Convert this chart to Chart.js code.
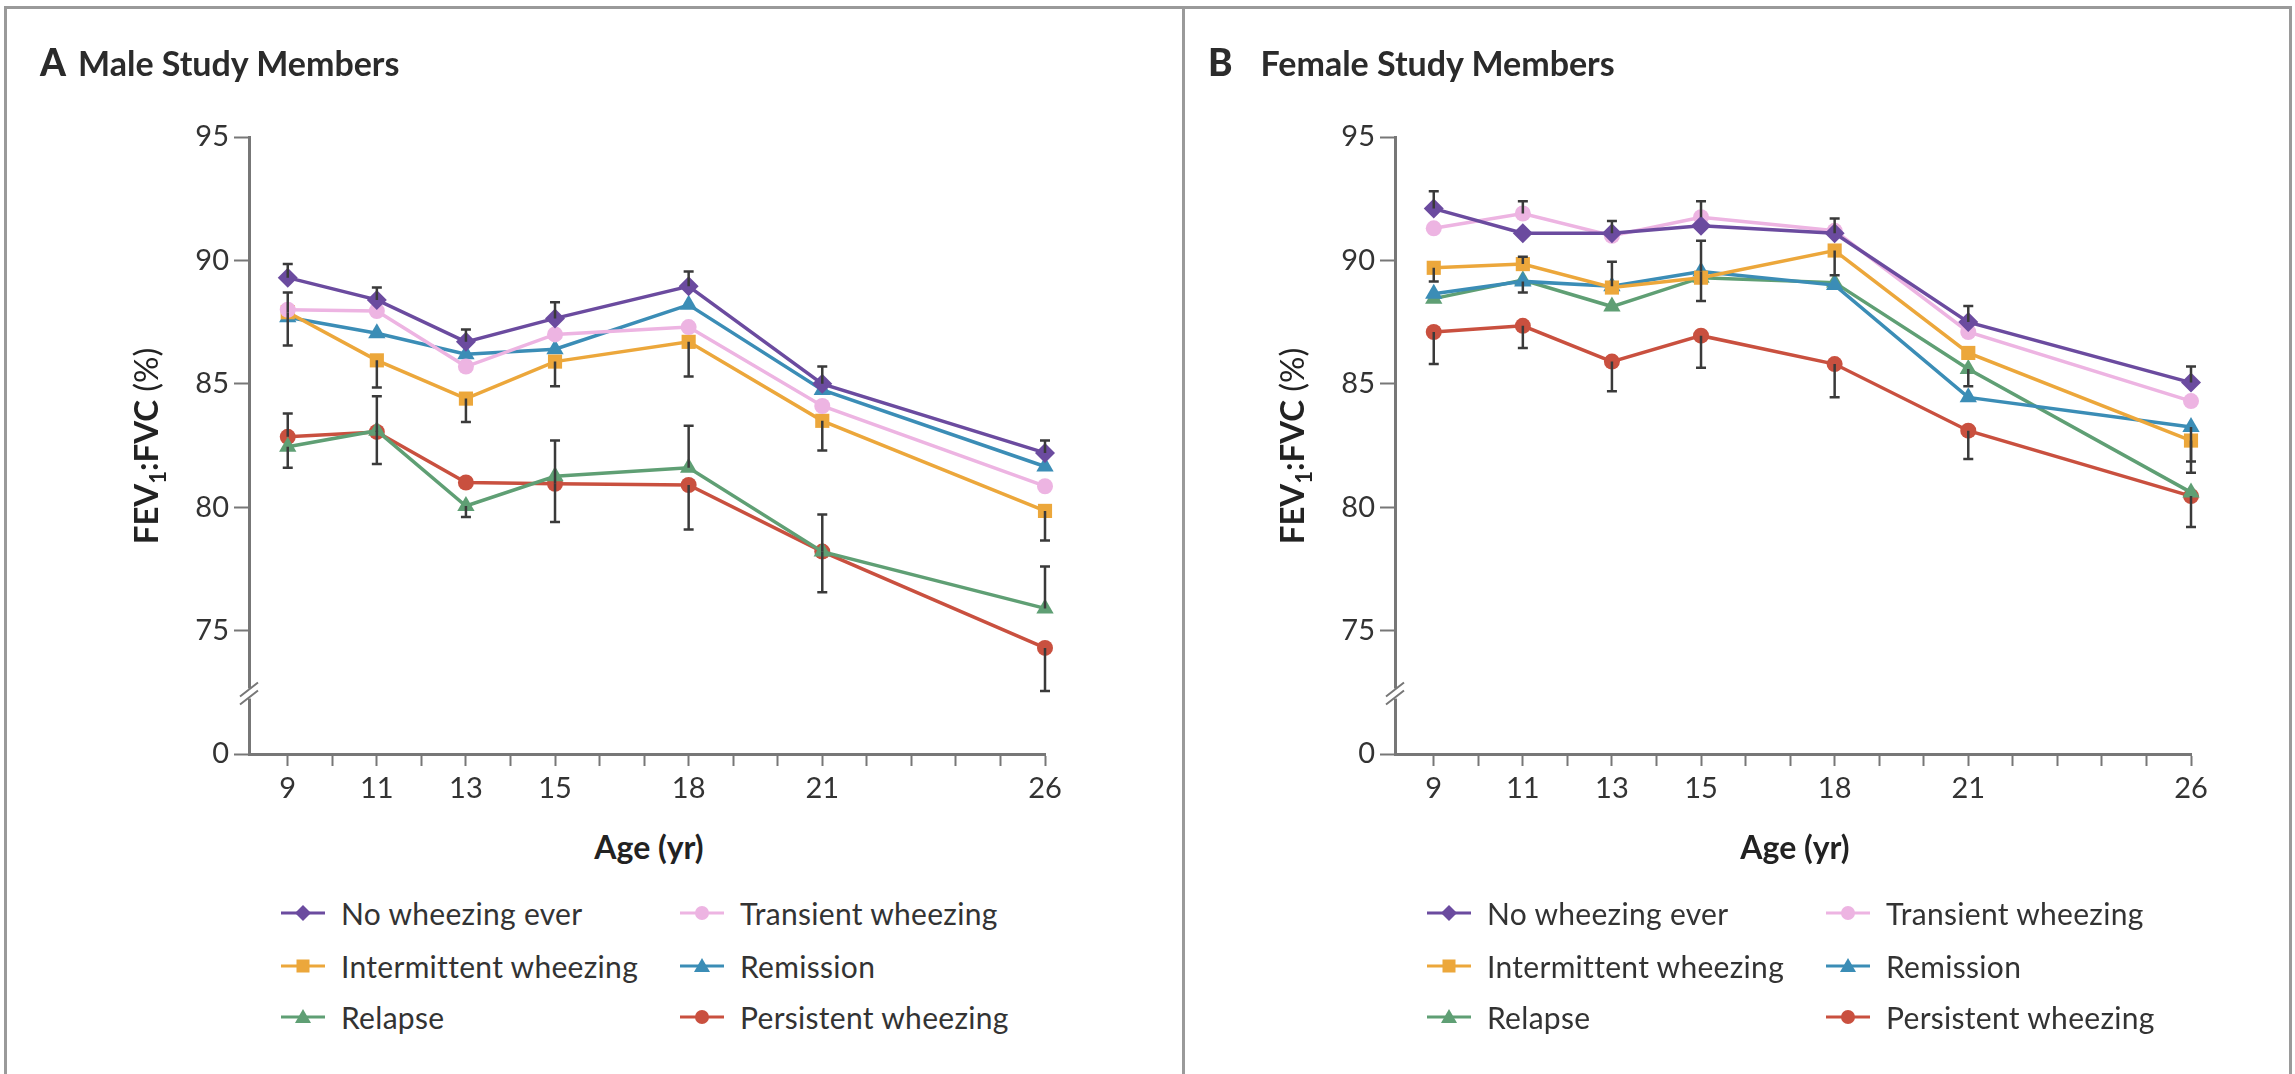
<!DOCTYPE html>
<html>
<head>
<meta charset="utf-8">
<script src="https://cdn.jsdelivr.net/npm/chart.js@4.4.0/dist/chart.umd.min.js"></script>
<style>
  html, body { margin: 0; padding: 0; background: #fff; }
  body { width: 2295px; height: 1074px; position: relative; overflow: hidden; font-family: Lato, 'Open Sans', sans-serif; color: #333; }
  .frame { position: absolute; top: 6px; left: 4px; width: 2288px; height: 1100px; border: 3px solid #9a9a9a; box-sizing: border-box; }
  .sep { position: absolute; top: 6px; left: 1182px; width: 3px; height: 1080px; background: #9a9a9a; }
  .panel { position: absolute; top: 0; width: 1150px; height: 1074px; }
  .panel canvas { position: absolute; left: 0; top: 0; }
  .ptitle { position: absolute; top: 45px; font-weight: 700; font-size: 34px; line-height: 34px; color: #2b2b2b; white-space: nowrap; }
  .ptitle .lt { font-size: 37px; font-weight: 900; }
  .ytitle { position: absolute; left: -5px; top: 428px; width: 300px; text-align: center; transform: rotate(-90deg); font-size: 33px; line-height: 36px; font-weight: 700; color: #222; white-space: nowrap; }
  .ytitle .pct { font-weight: 400; }
  .ytitle sub { font-size: 22px; line-height: 0; }
  .xtitle { position: absolute; left: 549px; top: 827px; width: 200px; text-align: center; font-size: 32px; font-weight: 700; color: #222; }
  .leg { position: absolute; height: 40px; display: flex; align-items: center; font-size: 30px; letter-spacing: 0.3px; color: #333; white-space: nowrap; }
  .leg svg { margin-right: 16px; }
</style>
</head>
<body>
<div class="frame"></div>
<div class="sep"></div>

<div class="panel" id="panelA" style="left:0">
  <canvas id="chartA" width="1150" height="820"></canvas>
  <div class="ptitle" style="left:40px"><span class="lt">A</span><span style="margin-left:12px">Male Study Members</span></div>
  <div class="ytitle">FEV<sub>1</sub>:FVC <span class="pct">(%)</span></div>
  <div class="xtitle">Age (yr)</div>
</div>

<div class="panel" id="panelB" style="left:1146px">
  <canvas id="chartB" width="1150" height="820"></canvas>
  <div class="ptitle" style="left:62px"><span class="lt">B</span><span style="margin-left:28px">Female Study Members</span></div>
  <div class="ytitle">FEV<sub>1</sub>:FVC <span class="pct">(%)</span></div>
  <div class="xtitle">Age (yr)</div>
</div>

<script>
// ages at which lung function was measured
const ages = [9, 11, 13, 15, 18, 21, 26];
const yearTicks = [9, 10, 11, 12, 13, 14, 15, 16, 17, 18, 19, 20, 21, 22, 23, 24, 25, 26];
// 70 sits where the broken axis is labelled 0
const yTicks = [70, 75, 80, 85, 90, 95];
const yTickLabels = ['0', '75', '80', '85', '90', '95'];

const seriesNames = ['No wheezing ever', 'Transient wheezing', 'Intermittent wheezing', 'Remission', 'Relapse', 'Persistent wheezing'];

// Male study members, FEV1:FVC (%)
const maleNoWheeze     = [89.3, 88.4, 86.7, 87.65, 88.95, 85.0, 82.2];
const maleTransient    = [88.0, 87.95, 85.7, 87.0, 87.3, 84.1, 80.85];
const maleIntermittent = [87.9, 85.95, 84.4, 85.9, 86.7, 83.5, 79.85];
const maleRemission    = [87.7, 87.05, 86.2, 86.4, 88.2, 84.75, 81.65];
const maleRelapse      = [82.45, 83.1, 80.05, 81.25, 81.6, 78.2, 75.9];
const malePersistent   = [82.85, 83.05, 81.0, 80.95, 80.9, 78.2, 74.3];

// Male error bars (upper / lower lengths, 0 = not drawn)
const maleNoWheezeUp      = [0.55, 0.5, 0.5, 0.65, 0.6, 0.7, 0.5];
const maleIntermittentUp  = [0.8, 0, 0, 0, 0, 0, 0];
const maleIntermittentDn  = [1.35, 1.1, 0.95, 1.0, 1.4, 1.2, 1.2];
const maleRelapseUp       = [0, 0, 0, 0, 1.7, 0, 1.7];
const maleRelapseDn       = [0.85, 1.35, 0.45, 0, 0, 0, 0];
const malePersistentUp    = [0.95, 1.45, 0, 1.75, 0, 1.5, 0];
const malePersistentDn    = [0, 0, 0, 1.55, 1.8, 1.65, 1.75];

// Female study members, FEV1:FVC (%)
const femaleNoWheeze     = [92.1, 91.1, 91.1, 91.4, 91.1, 87.5, 85.05];
const femaleTransient    = [91.3, 91.9, 91.0, 91.75, 91.2, 87.1, 84.3];
const femaleIntermittent = [89.7, 89.85, 88.9, 89.3, 90.4, 86.25, 82.7];
const femaleRemission    = [88.65, 89.15, 88.95, 89.55, 89.0, 84.45, 83.25];
const femaleRelapse      = [88.45, 89.2, 88.13, 89.3, 89.1, 85.6, 80.6];
const femalePersistent   = [87.1, 87.35, 85.9, 86.95, 85.8, 83.1, 80.45];

// Female error bars
const femaleNoWheezeUp     = [0.7, 0, 0.5, 0, 0.6, 0.65, 0.65];
const femaleTransientUp    = [0, 0.5, 0, 0.65, 0, 0, 0];
const femaleIntermittentUp = [0, 0.3, 0, 0, 0, 0, 0];
const femaleIntermittentDn = [0.55, 0, 0, 0, 1.0, 0, 0.85];
const femaleRemissionUp    = [0, 0, 1.0, 1.25, 0, 0, 0];
const femaleRemissionDn    = [0, 0.45, 0, 1.2, 0, 0, 1.85];
const femaleRelapseDn      = [0, 0, 0, 0, 0, 0.7, 0];
const femalePersistentDn   = [1.3, 0.9, 1.2, 1.3, 1.35, 1.15, 1.25];

const none = [0, 0, 0, 0, 0, 0, 0];

const colors = ['#6b4b9f', '#edb4e2', '#eca73b', '#3b8db6', '#5f9f74', '#c9503f'];
const styles = ['rectRot', 'circle', 'rect', 'triangle', 'triangle', 'circle'];
const radii = [10, 8, 10, 10, 10, 8];

function makeSets(values, ups, downs) {
  return values.map((vals, k) => ({
    label: seriesNames[k],
    data: ages.map((a, i) => ({ x: a, y: vals[i] })),
    borderColor: colors[k],
    backgroundColor: colors[k],
    pointBackgroundColor: colors[k],
    pointBorderColor: colors[k],
    pointStyle: styles[k],
    pointRadius: radii[k],
    pointBorderWidth: 0,
    borderWidth: 3.5,
    tension: 0,
    clip: false,
    errUp: ups[k],
    errDown: downs[k]
  }));
}

// error bars drawn through the chart scales
const errorBars = {
  id: 'errorBars',
  afterDatasetsDraw(chart) {
    const { ctx, scales: { x, y } } = chart;
    ctx.save();
    ctx.strokeStyle = '#3a3a3a';
    ctx.lineWidth = 2.5;
    chart.data.datasets.forEach(ds => {
      ds.data.forEach((pt, i) => {
        const px = x.getPixelForValue(pt.x);
        [[ds.errUp[i], 1], [ds.errDown[i], -1]].forEach(([e, s]) => {
          if (!e) return;
          const y0 = y.getPixelForValue(pt.y);
          const y1 = y.getPixelForValue(pt.y + s * e);
          ctx.beginPath();
          ctx.moveTo(px, y0); ctx.lineTo(px, y1);
          ctx.moveTo(px - 5, y1); ctx.lineTo(px + 5, y1);
          ctx.stroke();
        });
      });
    });
    ctx.restore();
  }
};

// the // mark on the broken y axis
const axisBreak = {
  id: 'axisBreak',
  afterDraw(chart) {
    const { ctx, scales: { y } } = chart;
    const ax = chart.chartArea.left;
    const by = y.getPixelForValue(72.45);
    ctx.save();
    ctx.fillStyle = '#fff';
    ctx.fillRect(ax - 4, by - 5, 8, 10);
    ctx.strokeStyle = '#777';
    ctx.lineWidth = 2;
    ctx.beginPath();
    ctx.moveTo(ax - 9, by + 3); ctx.lineTo(ax + 9, by - 11);
    ctx.moveTo(ax - 9, by + 11); ctx.lineTo(ax + 9, by - 3);
    ctx.stroke();
    ctx.restore();
  }
};

const tickFont = { family: 'Lato, "Open Sans", sans-serif', size: 29 };

function makeChart(id, datasets) {
  return new Chart(document.getElementById(id), {
    type: 'line',
    data: { datasets },
    plugins: [errorBars, axisBreak],
    options: {
      responsive: false,
      animation: false,
      events: [],
      layout: { padding: { top: 137, right: 105, left: 0, bottom: 0 } },
      plugins: { legend: { display: false }, tooltip: { enabled: false } },
      scales: {
        x: {
          type: 'linear',
          min: 8.13,
          max: 26,
          afterBuildTicks: ax => { ax.ticks = yearTicks.map(v => ({ value: v })); },
          afterFit: ax => { ax.height = 66; },
          grid: { drawOnChartArea: false, drawTicks: true, tickLength: 12, tickWidth: 2, color: '#777' },
          border: { display: true, color: '#777', width: 3 },
          ticks: {
            autoSkip: false, maxRotation: 0, padding: 5, color: '#333', font: tickFont,
            callback: v => ages.includes(v) ? String(v) : ''
          }
        },
        y: {
          type: 'linear',
          min: 70,
          max: 95,
          afterBuildTicks: ax => { ax.ticks = yTicks.map(v => ({ value: v })); },
          afterFit: ax => { ax.width = 249; },
          grid: { drawOnChartArea: false, drawTicks: true, tickLength: 15, tickWidth: 2, color: '#777' },
          border: { display: true, color: '#777', width: 3 },
          ticks: {
            padding: 5, color: '#333', font: tickFont,
            callback: v => yTickLabels[yTicks.indexOf(v)]
          }
        }
      }
    }
  });
}

makeChart('chartA', makeSets(
  [maleNoWheeze, maleTransient, maleIntermittent, maleRemission, maleRelapse, malePersistent],
  [maleNoWheezeUp, none, maleIntermittentUp, none, maleRelapseUp, malePersistentUp],
  [none, none, maleIntermittentDn, none, maleRelapseDn, malePersistentDn]
));

makeChart('chartB', makeSets(
  [femaleNoWheeze, femaleTransient, femaleIntermittent, femaleRemission, femaleRelapse, femalePersistent],
  [femaleNoWheezeUp, femaleTransientUp, femaleIntermittentUp, femaleRemissionUp, none, none],
  [none, none, femaleIntermittentDn, femaleRemissionDn, femaleRelapseDn, femalePersistentDn]
));

// legend: two columns, three rows, same in both panels
function markerSvg(k) {
  const c = colors[k];
  let shape = '';
  if (styles[k] === 'rectRot') shape = `<polygon points="22,2 30,10 22,18 14,10" fill="${c}"/>`;
  else if (styles[k] === 'circle') shape = `<circle cx="22" cy="10" r="7" fill="${c}"/>`;
  else if (styles[k] === 'rect') shape = `<rect x="15.5" y="3.5" width="13" height="13" fill="${c}"/>`;
  else shape = `<polygon points="22,2 30,16 14,16" fill="${c}"/>`;
  return `<svg width="44" height="20" viewBox="0 0 44 20"><line x1="0" y1="10" x2="44" y2="10" stroke="${c}" stroke-width="3"/>${shape}</svg>`;
}

const legendCols = [281, 680];
const legendRows = [893, 946, 997];
['panelA', 'panelB'].forEach(pid => {
  const panel = document.getElementById(pid);
  seriesNames.forEach((name, k) => {
    const d = document.createElement('div');
    d.className = 'leg';
    d.style.left = legendCols[k % 2] + 'px';
    d.style.top = legendRows[Math.floor(k / 2)] + 'px';
    d.innerHTML = markerSvg(k) + '<span>' + name + '</span>';
    panel.appendChild(d);
  });
});
</script>
</body>
</html>
